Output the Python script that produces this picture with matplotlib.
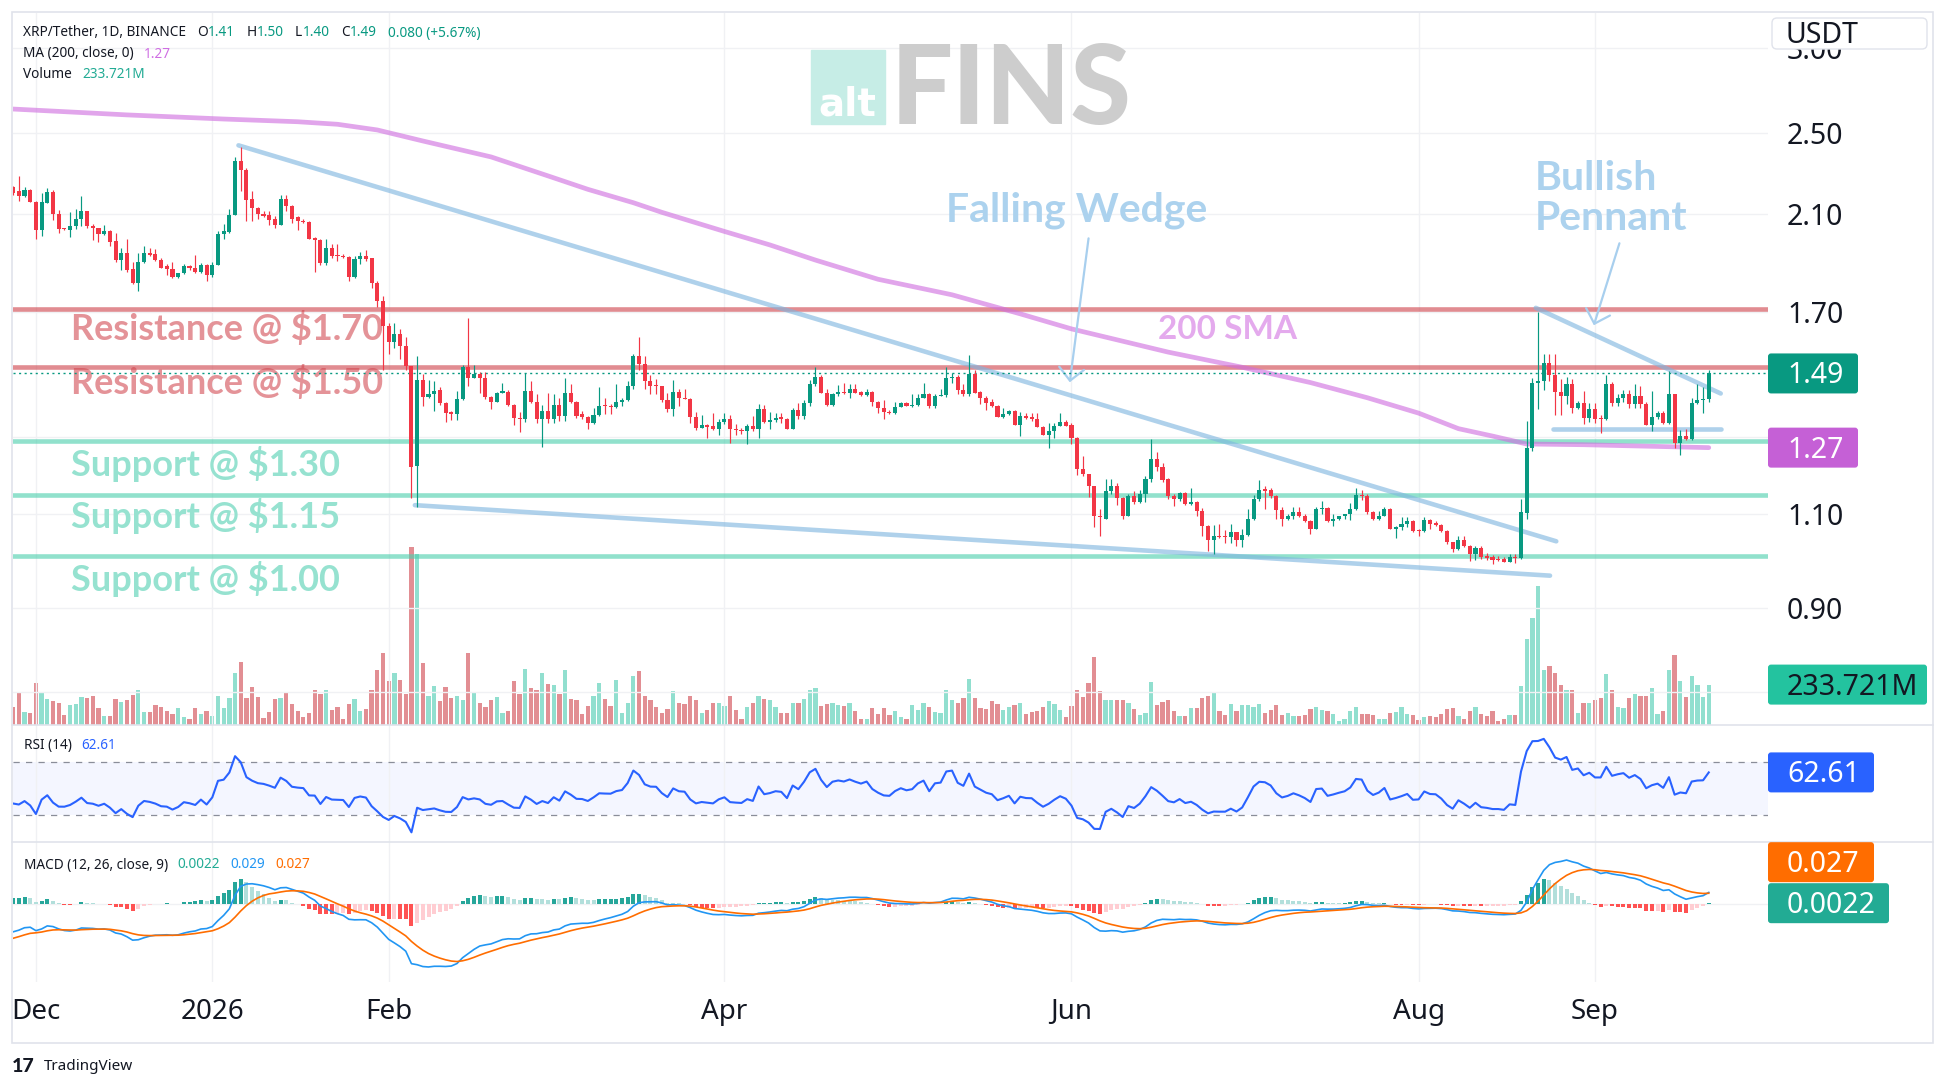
# -*- coding: utf-8 -*-
"""
XRP/Tether 1D (Binance) - chart with volume, 200 SMA, RSI(14) and MACD(12,26,9) panes
"""
#%% Imports
import numpy as np
import pandas as pd
import matplotlib
matplotlib.use("Agg")
import matplotlib.pyplot as plt
from matplotlib.patches import Rectangle, FancyBboxPatch
from matplotlib.lines import Line2D
from matplotlib.transforms import IdentityTransform
from matplotlib.ticker import NullLocator

plt.rcParams['font.family'] = ['Noto Sans', 'DejaVu Sans']

#%% Data (daily candles, USDT)
first_day = '2025-11-27'

opens = [
    2.224, 2.206, 2.183, 2.21, 2.157, 2.031, 2.152, 2.202, 2.099, 2.036,
    2.031, 2.045, 2.077, 2.112, 2.045, 2.036, 2.01, 2.025, 1.982, 1.902,
    1.93, 1.866, 1.81, 1.894, 1.933, 1.925, 1.902, 1.878, 1.866, 1.832,
    1.848, 1.878, 1.868, 1.852, 1.883, 1.84, 1.883, 2.012, 2.02, 2.096,
    2.356, 2.307, 2.17, 2.126, 2.10, 2.096, 2.078, 2.051, 2.17, 2.138,
    2.085, 2.07, 2.065, 1.99, 1.988, 1.89, 1.95, 1.922, 1.92, 1.915,
    1.835, 1.905, 1.917, 1.91, 1.81, 1.74, 1.65, 1.594, 1.622, 1.58,
    1.513, 1.22, 1.47, 1.417, 1.426, 1.437, 1.397, 1.37, 1.365, 1.41,
    1.51, 1.477, 1.488, 1.474, 1.415, 1.402, 1.43, 1.433, 1.392, 1.353,
    1.35, 1.434, 1.40, 1.352, 1.373, 1.352, 1.393, 1.36, 1.43, 1.40,
    1.365, 1.358, 1.34, 1.363, 1.39, 1.388, 1.386, 1.402, 1.408, 1.45,
    1.546, 1.522, 1.465, 1.45, 1.449, 1.408, 1.38, 1.433, 1.414, 1.411,
    1.358, 1.326, 1.333, 1.33, 1.323, 1.341, 1.35, 1.321, 1.318, 1.316,
    1.33, 1.321, 1.38, 1.342, 1.347, 1.355, 1.352, 1.323, 1.377, 1.36,
    1.397, 1.455, 1.48, 1.43, 1.392, 1.425, 1.433, 1.428, 1.44, 1.432,
    1.422, 1.432, 1.40, 1.383, 1.37, 1.368, 1.386, 1.397, 1.389, 1.393,
    1.414, 1.425, 1.388, 1.419, 1.422, 1.475, 1.48, 1.437, 1.425, 1.488,
    1.432, 1.414, 1.40, 1.39, 1.357, 1.365, 1.375, 1.333, 1.36, 1.353,
    1.352, 1.328, 1.306, 1.316, 1.33, 1.342, 1.333, 1.297, 1.212, 1.20,
    1.169, 1.096, 1.09, 1.157, 1.17, 1.14, 1.097, 1.145, 1.13, 1.15,
    1.187, 1.239, 1.217, 1.186, 1.145, 1.136, 1.152, 1.124, 1.13, 1.108,
    1.072, 1.042, 1.05, 1.049, 1.048, 1.058, 1.04, 1.053, 1.089, 1.136,
    1.16, 1.16, 1.145, 1.11, 1.089, 1.095, 1.105, 1.096, 1.084, 1.066,
    1.113, 1.115, 1.084, 1.089, 1.095, 1.10, 1.113, 1.146, 1.145, 1.106,
    1.089, 1.097, 1.113, 1.066, 1.071, 1.077, 1.084, 1.064, 1.062, 1.086,
    1.078, 1.076, 1.061, 1.036, 1.02, 1.042, 1.028, 1.01, 1.023, 1.005,
    1.004, 1.0, 0.999, 0.993, 1.004, 1.002, 1.104, 1.268, 1.459, 1.465,
    1.525, 1.485, 1.431, 1.42, 1.457, 1.382, 1.398, 1.355, 1.38, 1.353,
    1.35, 1.457, 1.398, 1.414, 1.425, 1.396, 1.42, 1.396, 1.333, 1.356,
    1.368, 1.34, 1.425, 1.284, 1.302, 1.295, 1.398, 1.408, 1.41]

highs = [
    2.23, 2.28, 2.224, 2.215, 2.16, 2.197, 2.22, 2.21, 2.12, 2.04,
    2.11, 2.125, 2.184, 2.115, 2.056, 2.04, 2.051, 2.03, 2.015, 1.954,
    1.99, 1.894, 1.933, 1.96, 1.952, 1.949, 1.91, 1.885, 1.894, 1.85,
    1.886, 1.88, 1.922, 1.89, 1.886, 1.894, 2.023, 2.056, 2.125, 2.375,
    2.425, 2.32, 2.206, 2.134, 2.113, 2.113, 2.09, 2.188, 2.19, 2.142,
    2.09, 2.08, 2.07, 2.0, 1.99, 1.99, 1.97, 1.97, 1.925, 1.92,
    1.92, 1.937, 1.944, 1.91, 1.818, 1.76, 1.661, 1.661, 1.64, 1.613,
    1.515, 1.546, 1.488, 1.47, 1.466, 1.447, 1.40, 1.375, 1.435, 1.516,
    1.68, 1.516, 1.495, 1.495, 1.42, 1.432, 1.46, 1.437, 1.395, 1.37,
    1.493, 1.467, 1.425, 1.393, 1.43, 1.425, 1.414, 1.475, 1.456, 1.405,
    1.375, 1.36, 1.384, 1.447, 1.414, 1.395, 1.455, 1.414, 1.465, 1.554,
    1.61, 1.546, 1.485, 1.473, 1.45, 1.43, 1.469, 1.44, 1.44, 1.413,
    1.372, 1.362, 1.335, 1.368, 1.35, 1.368, 1.362, 1.336, 1.325, 1.336,
    1.36, 1.395, 1.393, 1.37, 1.368, 1.368, 1.355, 1.384, 1.397, 1.408,
    1.469, 1.51, 1.485, 1.44, 1.43, 1.452, 1.461, 1.455, 1.455, 1.435,
    1.44, 1.435, 1.405, 1.408, 1.378, 1.40, 1.401, 1.40, 1.425, 1.425,
    1.461, 1.43, 1.425, 1.44, 1.51, 1.49, 1.485, 1.455, 1.55, 1.50,
    1.435, 1.42, 1.41, 1.392, 1.382, 1.378, 1.376, 1.372, 1.368, 1.368,
    1.368, 1.33, 1.338, 1.34, 1.368, 1.348, 1.34, 1.30, 1.248, 1.20,
    1.17, 1.112, 1.186, 1.187, 1.177, 1.142, 1.15, 1.158, 1.16, 1.195,
    1.293, 1.257, 1.229, 1.19, 1.15, 1.155, 1.155, 1.165, 1.132, 1.114,
    1.074, 1.075, 1.077, 1.064, 1.077, 1.06, 1.066, 1.113, 1.148, 1.184,
    1.169, 1.165, 1.147, 1.118, 1.10, 1.118, 1.118, 1.10, 1.086, 1.118,
    1.132, 1.117, 1.10, 1.097, 1.101, 1.127, 1.165, 1.16, 1.15, 1.108,
    1.108, 1.118, 1.115, 1.072, 1.094, 1.094, 1.086, 1.066, 1.094, 1.09,
    1.084, 1.078, 1.063, 1.037, 1.05, 1.05, 1.03, 1.027, 1.027, 1.012,
    1.008, 1.006, 1.004, 1.01, 1.01, 1.136, 1.345, 1.475, 1.70, 1.555,
    1.555, 1.555, 1.473, 1.478, 1.473, 1.405, 1.434, 1.398, 1.398, 1.362,
    1.485, 1.463, 1.425, 1.437, 1.437, 1.455, 1.45, 1.40, 1.434, 1.373,
    1.373, 1.497, 1.425, 1.318, 1.323, 1.414, 1.457, 1.447, 1.50]

lows = [
    2.19, 2.161, 2.178, 2.155, 1.99, 2.002, 2.15, 2.073, 2.018, 2.03,
    1.998, 2.034, 2.048, 2.04, 1.985, 1.978, 2.008, 1.962, 1.894, 1.863,
    1.855, 1.806, 1.78, 1.89, 1.917, 1.90, 1.871, 1.843, 1.829, 1.83,
    1.845, 1.86, 1.85, 1.848, 1.818, 1.833, 1.88, 1.99, 2.018, 2.094,
    2.206, 2.07, 2.07, 2.079, 2.085, 2.051, 2.04, 2.05, 2.113, 2.06,
    2.031, 2.06, 1.99, 1.852, 1.88, 1.88, 1.91, 1.90, 1.912, 1.818,
    1.83, 1.886, 1.90, 1.79, 1.72, 1.50, 1.554, 1.575, 1.537, 1.50,
    1.139, 1.117, 1.388, 1.414, 1.373, 1.392, 1.343, 1.347, 1.348, 1.408,
    1.449, 1.475, 1.43, 1.41, 1.38, 1.40, 1.428, 1.39, 1.333, 1.314,
    1.343, 1.398, 1.34, 1.272, 1.34, 1.34, 1.345, 1.346, 1.398, 1.355,
    1.352, 1.323, 1.336, 1.36, 1.365, 1.366, 1.383, 1.388, 1.405, 1.44,
    1.50, 1.44, 1.425, 1.425, 1.40, 1.372, 1.36, 1.39, 1.41, 1.338,
    1.318, 1.324, 1.297, 1.318, 1.305, 1.336, 1.282, 1.305, 1.307, 1.28,
    1.316, 1.297, 1.338, 1.323, 1.343, 1.34, 1.322, 1.322, 1.352, 1.35,
    1.39, 1.45, 1.428, 1.39, 1.39, 1.42, 1.425, 1.414, 1.428, 1.42,
    1.42, 1.388, 1.368, 1.35, 1.366, 1.366, 1.385, 1.388, 1.386, 1.39,
    1.412, 1.382, 1.382, 1.418, 1.417, 1.46, 1.425, 1.42, 1.42, 1.43,
    1.395, 1.377, 1.385, 1.356, 1.355, 1.362, 1.332, 1.302, 1.35, 1.345,
    1.327, 1.305, 1.27, 1.298, 1.33, 1.33, 1.28, 1.197, 1.196, 1.143,
    1.071, 1.051, 1.088, 1.15, 1.122, 1.09, 1.095, 1.125, 1.127, 1.13,
    1.18, 1.207, 1.18, 1.136, 1.12, 1.133, 1.122, 1.122, 1.095, 1.049,
    1.017, 1.011, 1.046, 1.034, 1.034, 1.027, 1.025, 1.05, 1.086, 1.133,
    1.113, 1.14, 1.09, 1.072, 1.086, 1.09, 1.094, 1.081, 1.055, 1.065,
    1.10, 1.083, 1.072, 1.087, 1.09, 1.086, 1.11, 1.134, 1.10, 1.086,
    1.086, 1.095, 1.065, 1.046, 1.063, 1.071, 1.059, 1.049, 1.06, 1.066,
    1.072, 1.059, 1.032, 1.014, 1.018, 1.025, 0.994, 0.996, 1.0, 0.998,
    0.988, 0.994, 0.992, 0.992, 0.99, 1.0, 1.09, 1.262, 1.381, 1.437,
    1.467, 1.362, 1.362, 1.396, 1.368, 1.38, 1.336, 1.343, 1.34, 1.312,
    1.348, 1.39, 1.39, 1.402, 1.382, 1.382, 1.382, 1.332, 1.316, 1.35,
    1.336, 1.336, 1.268, 1.249, 1.292, 1.292, 1.396, 1.368, 1.40]

closes = [
    2.196, 2.183, 2.21, 2.157, 2.031, 2.157, 2.202, 2.099, 2.034, 2.033,
    2.048, 2.077, 2.112, 2.045, 2.036, 2.01, 2.025, 1.978, 1.902, 1.93,
    1.863, 1.81, 1.894, 1.933, 1.922, 1.902, 1.871, 1.866, 1.832, 1.848,
    1.878, 1.868, 1.852, 1.883, 1.84, 1.883, 2.012, 2.023, 2.096, 2.356,
    2.307, 2.165, 2.126, 2.099, 2.091, 2.073, 2.051, 2.17, 2.138, 2.079,
    2.07, 2.065, 1.99, 1.988, 1.89, 1.95, 1.92, 1.918, 1.915, 1.835,
    1.905, 1.917, 1.906, 1.81, 1.74, 1.65, 1.594, 1.622, 1.58, 1.513,
    1.219, 1.47, 1.417, 1.426, 1.435, 1.397, 1.368, 1.365, 1.41, 1.51,
    1.477, 1.488, 1.474, 1.415, 1.402, 1.43, 1.433, 1.392, 1.353, 1.35,
    1.434, 1.40, 1.352, 1.373, 1.352, 1.393, 1.36, 1.43, 1.40, 1.36,
    1.358, 1.34, 1.363, 1.39, 1.388, 1.387, 1.402, 1.408, 1.45, 1.546,
    1.522, 1.465, 1.45, 1.449, 1.408, 1.38, 1.433, 1.414, 1.411, 1.357,
    1.326, 1.333, 1.328, 1.323, 1.341, 1.35, 1.321, 1.318, 1.316, 1.33,
    1.321, 1.38, 1.342, 1.347, 1.355, 1.352, 1.323, 1.377, 1.36, 1.397,
    1.455, 1.48, 1.43, 1.392, 1.425, 1.433, 1.428, 1.44, 1.43, 1.422,
    1.432, 1.40, 1.383, 1.37, 1.368, 1.386, 1.397, 1.389, 1.393, 1.414,
    1.425, 1.388, 1.419, 1.422, 1.475, 1.48, 1.437, 1.425, 1.488, 1.43,
    1.414, 1.398, 1.39, 1.357, 1.365, 1.375, 1.333, 1.36, 1.353, 1.352,
    1.328, 1.306, 1.316, 1.33, 1.342, 1.331, 1.297, 1.212, 1.20, 1.169,
    1.095, 1.093, 1.157, 1.17, 1.14, 1.097, 1.145, 1.13, 1.15, 1.187,
    1.239, 1.217, 1.184, 1.145, 1.136, 1.152, 1.124, 1.13, 1.108, 1.072,
    1.042, 1.049, 1.048, 1.048, 1.058, 1.04, 1.053, 1.089, 1.136, 1.16,
    1.158, 1.145, 1.11, 1.089, 1.095, 1.105, 1.096, 1.084, 1.066, 1.113,
    1.115, 1.084, 1.089, 1.095, 1.10, 1.113, 1.146, 1.144, 1.106, 1.089,
    1.097, 1.113, 1.066, 1.071, 1.077, 1.084, 1.061, 1.062, 1.086, 1.077,
    1.076, 1.061, 1.036, 1.02, 1.042, 1.028, 1.01, 1.023, 1.004, 1.001,
    0.996, 0.996, 0.993, 1.004, 1.002, 1.105, 1.27, 1.459, 1.465, 1.525,
    1.485, 1.431, 1.42, 1.457, 1.382, 1.398, 1.355, 1.38, 1.35, 1.35,
    1.457, 1.398, 1.414, 1.425, 1.396, 1.42, 1.396, 1.333, 1.356, 1.368,
    1.34, 1.425, 1.284, 1.302, 1.295, 1.398, 1.408, 1.41, 1.49]

# volume in millions
volume_m = [
    103, 191, 77, 70, 241, 186, 149, 138, 131, 59, 114, 123, 160, 156, 167, 99, 55,
    55, 149, 134, 143, 173, 202, 77, 77, 116, 105, 83, 66, 99, 48, 39, 99, 66, 81,
    55, 171, 99, 158, 300, 361, 158, 219, 160, 42, 77, 151, 156, 186, 120, 81,
    48, 70, 202, 180, 202, 88, 105, 39, 120, 149, 83, 92, 202, 318, 412, 252, 300,
    259, 180, 1020, 980, 355, 169, 224, 138, 219, 158, 169, 143, 417, 186, 131, 103,
    143, 160, 70, 83, 252, 180, 325, 213, 204, 300, 237, 230, 180, 318, 149, 143, 66, 110,
    171, 241, 149, 110, 259, 72, 127, 281, 311, 171, 143, 103, 72, 92, 195, 127, 120,
    167, 143, 70, 88, 131, 127, 110, 167, 86, 39, 103, 131, 171, 149, 143, 103, 72, 72,
    131, 131, 149, 204, 213, 110, 120, 131, 116, 110, 131, 83, 37, 39, 99, 66,
    99, 61, 81, 48, 39, 114, 88, 131, 105, 77, 72, 204, 143, 131, 158, 263, 158, 99,
    92, 138, 120, 88, 105, 116, 131, 66, 77, 83, 105, 138, 120, 88, 48, 110, 204, 164,
    241, 390, 197, 143, 143, 143, 143, 127, 92, 61, 72, 246, 114, 136, 143,
    83, 55, 55, 99, 99, 158, 169, 186, 83, 59, 120, 81, 114, 114, 105, 120, 70, 88,
    114, 59, 72, 55, 55, 61, 94, 103, 88, 81, 66, 28, 37, 83, 105, 66, 66, 61, 39, 37,
    72, 77, 105, 66, 61, 33, 48, 55, 50, 66, 94, 99, 55,
    39, 81, 103, 66, 55, 81, 28, 37, 61, 59, 224, 493, 614, 800, 318, 340, 300, 230,
    202, 204, 70, 131, 127, 143, 156, 292, 204, 105, 99, 158, 180, 171, 171, 213, 66,
    83, 318, 401, 252, 160, 281, 230, 160, 233.721]

# 200-day SMA, read at a few days along the curve
ma200_day = [0, 20, 37, 50, 57, 64, 72, 84, 94, 101, 109, 114, 125, 133, 141,
             152, 165, 177, 186, 203, 216, 228, 238, 247, 254, 260, 266, 276, 298]
ma200_val = [2.633, 2.60, 2.577, 2.562, 2.548, 2.517, 2.458, 2.375, 2.28, 2.215, 2.152,
             2.108, 2.023, 1.965, 1.902, 1.825, 1.765, 1.694, 1.64, 1.56, 1.51, 1.461,
             1.414, 1.368, 1.323, 1.302, 1.28, 1.278, 1.27]

# MACD / signal at the first bar (seed for the EMAs)
macd_start, signal_start = -0.069, -0.085

# drawings on the chart (day index, price)
resistance_lvls = [1.71, 1.51]
support_lvls = [1.287, 1.148, 1.006]
wedge_upper = [(39.6, 271.2), (2.435, 1.038)]
wedge_lower = [(70.6, 270.1), (1.122, 0.964)]
pennant_upper = [(267.6, 300.1), (1.716, 1.427)]
pennant_lower = [(270.7, 300.1), (1.321, 1.321)]

level_texts = [('Resistance @ $1.70', 1.602, 'res'), ('Resistance @ $1.50', 1.425, 'res'),
               ('Support @ $1.30', 1.194, 'sup'), ('Support @ $1.15', 1.068, 'sup'),
               ('Support @ $1.00', 0.932, 'sup')]

#%% Indicators
o, h, l, c = (np.array(v, dtype=float) for v in (opens, highs, lows, closes))
vol = np.array(volume_m, dtype=float)
n = len(c)
x = np.arange(n)
dates = pd.date_range(first_day, periods=n, freq='D')

# RSI 14 (Wilder)
diff = np.diff(c)
gain = np.clip(diff, 0, None)
loss = np.clip(-diff, 0, None)
ag, al = gain[:14].mean(), loss[:14].mean()
rsi = [100 - 100 / (1 + ag / al)]
for g_, l_ in zip(gain, loss):
    ag = (ag * 13 + g_) / 14
    al = (al * 13 + l_) / 14
    rsi.append(100 - 100 / (1 + ag / al))
rsi = np.array(rsi)

def ema(vals, span, first):
    a = 2.0 / (span + 1)
    out = np.empty(len(vals))
    e = first
    for k, v in enumerate(vals):
        if k > 0:
            e = e + a * (v - e)
        out[k] = e
    return out

ema12 = ema(c, 12, c[0])
ema26 = ema(c, 26, c[0] - macd_start)
macd = ema12 - ema26
signal = ema(macd, 9, signal_start)
hist = macd - signal

#%% Layout (pixel geometry of the screenshot)
W, H, DPI = 1946, 1088, 100
L_, R_ = 12.5, 1768.0
T_MAIN, B_MAIN, B_RSI, B_MACD = 12.7, 725.4, 842.3, 982.0
GRID = '#f0f1f4'
DARK = '#131722'

def rect(left, top, right, bottom):
    return [left / W, 1 - bottom / H, (right - left) / W, (bottom - top) / H]

fig = plt.figure(figsize=(W / DPI, H / DPI), dpi=DPI, facecolor='white')
ax_vol = fig.add_axes(rect(L_, T_MAIN, R_, B_MAIN))
ax = fig.add_axes(rect(L_, T_MAIN, R_, B_MAIN))
ax.patch.set_visible(False)
ax_rsi = fig.add_axes(rect(L_, B_MAIN, R_, B_RSI))
ax_macd = fig.add_axes(rect(L_, B_RSI, R_, B_MACD))

xlim = (-0.114, 308.41)
tick_idx = [i for i, d in enumerate(dates) if d.day == 1 and d.month in (12, 1, 2, 4, 6, 8, 9)]
tick_lbl = ['2026' if dates[i].month == 1 else dates[i].strftime('%b') for i in tick_idx]

for a in (ax_vol, ax, ax_rsi, ax_macd):
    a.set_xlim(*xlim)
    for s in a.spines.values():
        s.set_visible(False)
    a.set_xticks(tick_idx)
    a.tick_params(length=0, labelbottom=False, labelleft=False)
for a in (ax, ax_rsi, ax_macd):
    a.grid(True, axis='x', color=GRID, lw=1.0)
ax_vol.set_yticks([])

#%% Main pane
ax.set_yscale('log')
ax.set_ylim(0.6983, 3.240)
price_ticks = [0.75, 0.9, 1.1, 1.3, 1.7, 2.1, 2.5, 3.0]
hidden_ticks = (0.75, 1.3)   # covered by the value tags on the reference
ax.set_yticks(price_ticks)
ax.set_yticklabels(['' if t in hidden_ticks else '%.2f' % t for t in price_ticks])
ax.yaxis.set_minor_locator(NullLocator())
ax.yaxis.tick_right()
ax.tick_params(axis='y', length=0, pad=13.7, labelsize=20.5, labelcolor=DARK, labelright=True)
ax.grid(True, axis='y', which='major', color=GRID, lw=1.0)

# volume
up = c >= o
ax_vol.set_ylim(0, 4082)
ax_vol.bar(x, vol, width=0.75, color=np.where(up, '#91dfcf', '#e28e93'), linewidth=0)

# levels and drawings
for lv in resistance_lvls:
    ax.axhline(lv, color='#cf464e', alpha=0.62, lw=3.3, zorder=2.4)
for lv in support_lvls:
    ax.axhline(lv, color='#4ecfae', alpha=0.62, lw=3.3, zorder=2.4)
for xs, ys in (wedge_upper, wedge_lower, pennant_upper, pennant_lower):
    ax.plot(xs, ys, color='#7eb6df', alpha=0.62, lw=3.3, solid_capstyle='round', zorder=2.5)
ax.plot(ma200_day, ma200_val, color='#cf6edf', alpha=0.62, lw=3.4, solid_capstyle='round', zorder=2.6)
ax.axhline(c[-1], color='#089981', lw=1.0, ls=(0, (1.5, 2.5)), zorder=2.7)

txt_col = {'res': '#e49398', 'sup': '#96e2d0'}
for s, y, kind in level_texts:
    ax.text(10.2, y, s, color=txt_col[kind], fontsize=26, fontweight='bold', family='Lato',
            va='baseline', ha='left', zorder=2.2)
ax.text(201.2, 1.606, '200 SMA', color='#e4aaed', fontsize=24, fontweight='bold', family='Lato',
        va='baseline', ha='left', zorder=2.2)
ax.text(164.0, 2.065, 'Falling Wedge', color='#acd2ee', fontsize=29.5, fontweight='bold',
        family='Lato', va='baseline', ha='left', zorder=2.2)
ax.text(267.5, 2.211, 'Bullish', color='#acd2ee', fontsize=29.5, fontweight='bold',
        family='Lato', va='baseline', ha='left', zorder=2.2)
ax.text(267.5, 2.031, 'Pennant', color='#acd2ee', fontsize=29.5, fontweight='bold',
        family='Lato', va='baseline', ha='left', zorder=2.2)
arrow = dict(arrowstyle='->,head_length=0.45,head_width=0.45', color='#a8cfee', lw=1.6,
             mutation_scale=20, shrinkA=0, shrinkB=0)
ax.annotate('', xy=(185.7, 1.462), xytext=(189.0, 1.993), arrowprops=arrow, zorder=2.6)
ax.annotate('', xy=(277.8, 1.653), xytext=(282.3, 1.972), arrowprops=arrow, zorder=2.6)

# candles
ccol = np.where(up, '#089981', '#f23645')
ax.vlines(x, l, h, colors=ccol, lw=0.85, zorder=3)
lo = np.minimum(o, c)
hi = np.maximum(np.maximum(o, c), lo * 1.0025)
ax.bar(x, hi - lo, bottom=lo, width=0.72, color=ccol, linewidth=0, zorder=4)

#%% RSI pane
ax_rsi.set_ylim(9.85, 97.1)
ax_rsi.set_yticks([])
ax_rsi.axhspan(30, 70, color='#2962ff', alpha=0.05, lw=0, zorder=0.5)
for lv in (70, 30):
    ax_rsi.axhline(lv, color='#8a8e99', lw=0.9, dashes=(5, 5))
ax_rsi.plot(x, rsi, color='#2962ff', lw=1.5, zorder=3)

#%% MACD pane
ax_macd.set_ylim(-0.1935, 0.1531)
ax_macd.set_yticks([])
ax_macd.axhline(0, color=GRID, lw=1.0, zorder=0.5)
prev = np.r_[hist[0], hist[:-1]]
hcol = np.where(hist >= 0, np.where(hist >= prev, '#26a69a', '#b2dfdb'),
                np.where(hist < prev, '#ff5252', '#ffcdd2'))
ax_macd.bar(x, hist, width=0.7, color=hcol, linewidth=0, zorder=2)
ax_macd.plot(x, macd, color='#2196f3', lw=1.2, zorder=3)
ax_macd.plot(x, signal, color='#ff6d00', lw=1.2, zorder=3)
ax_macd.set_xticks(tick_idx, labels=tick_lbl)
ax_macd.tick_params(axis='x', length=0, pad=11.5, labelsize=20, labelcolor=DARK, labelbottom=True)
for t in ax_macd.get_xticklabels():
    if t.get_text() == '2026':
        t.set_fontweight('bold')

#%% Frame, separators
ID = IdentityTransform()
fig.add_artist(Rectangle((12.4, H - 1043), 1932.5 - 12.4, 1043 - 12.4, transform=ID,
                         fill=False, edgecolor='#e0e3eb', lw=1.2))
for yy in (B_MAIN, B_RSI):
    fig.add_artist(Line2D([12.4, 1932.5], [H - yy, H - yy], transform=ID, color='#e0e3eb', lw=1.2))

#%% Value tags on the price scale
def value_tag(y_disp, txt, face, right, fg='white'):
    fig.add_artist(FancyBboxPatch((1768, y_disp - 20), right - 1768, 40,
                                  boxstyle='round,pad=0,rounding_size=3', transform=ID,
                                  facecolor=face, edgecolor='none', zorder=5))
    fig.text(1787, y_disp - 10, txt, transform=ID, color=fg, fontsize=20.5,
             va='baseline', ha='left', zorder=6)

yd = lambda a, v: a.transData.transform((0, v))[1]
value_tag(yd(ax, c[-1]), '1.49', '#089981', 1858)
value_tag(yd(ax, ma200_val[-1]), '1.27', '#c560d6', 1858)
value_tag(yd(ax_vol, vol[-1]), '233.721M', '#23c39f', 1927, fg=DARK)
value_tag(yd(ax_rsi, rsi[-1]), '62.61', '#2962ff', 1874)
y_h = yd(ax_macd, hist[-1])
value_tag(y_h, '0.0022', '#22ab94', 1889)
value_tag(y_h + 41, '0.027', '#ff6d00', 1874)

# currency box
fig.add_artist(FancyBboxPatch((1772, H - 49), 155, 31, boxstyle='round,pad=0,rounding_size=5',
                              transform=ID, facecolor='white', edgecolor='#e0e3eb', lw=1.0, zorder=5))
fig.text(1785, H - 43.4, 'USDT', transform=ID, color=DARK, fontsize=20.5, va='baseline', zorder=6)

#%% Legends (top-left of each pane)
renderer = fig.canvas.get_renderer()

def text_row(x_px, y_px, parts, size=9.8):
    for s, col, gap in parts:
        t = fig.text(x_px / W, 1 - y_px / H, s, color=col, fontsize=size, va='center', ha='left')
        x_px += t.get_window_extent(renderer).width + gap

TEAL = '#089981'
text_row(23, 33, [('XRP/Tether, 1D, BINANCE', DARK, 11), ('O', DARK, 0.5), ('1.41', TEAL, 11),
                  ('H', DARK, 0.5), ('1.50', TEAL, 11), ('L', DARK, 0.5), ('1.40', TEAL, 11),
                  ('C', DARK, 0.5), ('1.49', TEAL, 11), ('0.080 (+5.67%)', TEAL, 0)])
text_row(23, 54, [('MA (200, close, 0)', DARK, 10.5), ('1.27', '#cf6ee3', 0)])
text_row(23, 75, [('Volume', DARK, 10.5), ('233.721M', '#22ab94', 0)])
text_row(23.7, 745.7, [('RSI (14)', DARK, 9.5), ('62.61', '#2962ff', 0)])
text_row(23.7, 865, [('MACD (12, 26, close, 9)', DARK, 10), ('0.0022', '#22ab94', 10),
                     ('0.029', '#2196f3', 10.5), ('0.027', '#ff6d00', 0)])

#%% Watermark and footer
fig.add_artist(Rectangle((811 / W, 1 - 124 / H), 74 / W, 74 / H, transform=fig.transFigure,
                         color='#c6ede6', zorder=1))
fig.text(818 / W, 1 - 116 / H, 'alt', color='white', fontsize=28, fontweight='bold',
         family='DejaVu Sans', va='baseline', zorder=2)
fig.text(891 / W, 1 - 124 / H, 'FINS', color='#cdcdcd', fontsize=79, fontweight='black',
         family='Lato', va='baseline', zorder=2)
fig.text(12 / W, 1 - 1066.7 / H, '17', color=DARK, fontsize=14, fontweight='black',
         family='Lato', va='center')
fig.text(44 / W, 1 - 1066.7 / H, 'TradingView', color=DARK, fontsize=11, va='center')

fig.savefig('out.png', dpi=DPI, facecolor='white')
